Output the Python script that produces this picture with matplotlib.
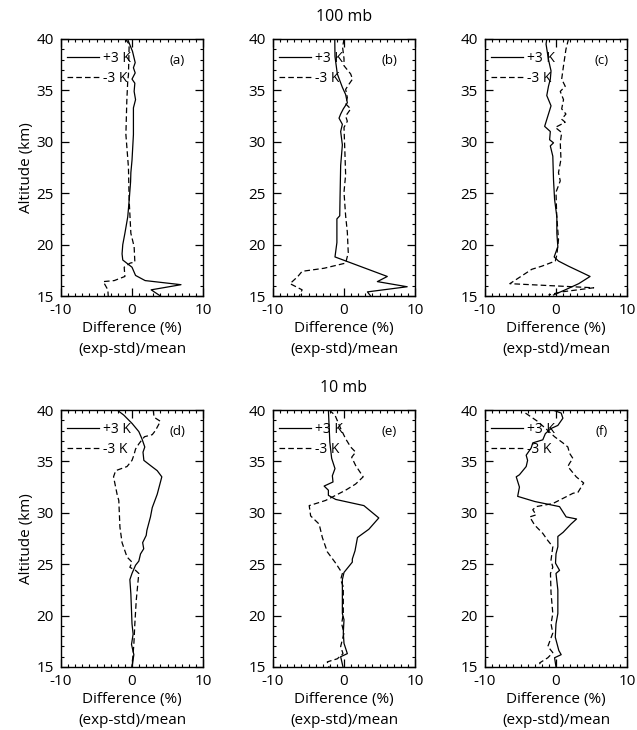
import matplotlib
matplotlib.use("Agg")
import matplotlib.pyplot as plt

plt.rcParams['font.family'] = ['Open Sans', 'DejaVu Sans']
plt.rcParams['axes.unicode_minus'] = False

# panel (a)
a_plus_x = [-0.63, 0.07, 0.45, 0.2, 0.45, 0.0, 0.4, 0.3, 0.5, 0.2, 0.2, 0.0, -0.16, -0.2, -0.4,
            -0.6, -1.0, -1.3, -1.4, -1.3, 0.0, 0.5, 1.85, 6.9, 2.7, 4.0]
a_plus_y = [40, 38.8, 37.7, 37.2, 36.7, 36.1, 35.7, 34.9, 34.1, 33.3, 30.7, 28.2, 27.0, 26.1, 24.3,
            22.7, 21.1, 20.0, 19.1, 18.5, 17.8, 17.0, 16.5, 16.1, 15.6, 15.0]
a_minus_x = [-0.96, -0.4, -0.5, -0.6, -0.73, -0.86, -0.5, -0.4, -0.16, 0.3, 0.4, -0.26, -1.1, -1.0,
             -2.5, -4.05, -3.4, -3.35]
a_minus_y = [40, 39.5, 36.5, 35.9, 34.0, 30.7, 27.5, 24.3, 21.1, 19.8, 18.3, 18.2, 17.8, 16.9,
             16.5, 16.4, 15.6, 15.0]

# panel (b)
b_plus_x = [-1.3, -1.27, -0.94, -0.23, 0.23, 0.47, -0.1, -0.47, -0.7, -0.23, -0.47, -0.23, -0.47,
            -0.56, -0.6, -1.0, -1.0, -1.27, 6.1, 4.7, 8.9, 3.3, 3.75]
b_plus_y = [40, 38.3, 36.6, 35.3, 34.6, 33.8, 33.2, 32.7, 32.3, 31.7, 31.0, 29.7, 27.7,
            24.5, 22.8, 22.5, 20.2, 18.8, 16.9, 16.4, 15.9, 15.4, 15.0]
b_minus_x = [0.0, -0.2, 0.0, 0.0, 0.94, 1.2, 0.7, 0.23, 0.47, 0.23, 0.94, 0.23, 0.47, 0.0, 0.14,
             0.23, 0.0, 0.23, 0.47, 0.6, 0.23, -2.8, -5.9, -6.5, -7.6, -5.9, -6.3]
b_minus_y = [40, 39.2, 38.1, 37.4, 36.6, 36.1, 35.6, 35.1, 34.3, 33.7, 33.2, 32.5, 32.0, 31.4, 28.7,
             26.8, 25.1, 22.8, 21.2, 19.2, 18.2, 17.7, 17.4, 16.9, 16.2, 15.6, 15.0]

# panel (c)
c_plus_x = [-1.3, -1.4, -1.06, -0.7, -0.8, -1.06, -1.3, -0.7, -1.06, -1.6, -0.8, -0.9, -0.35, -0.8,
            -0.45, -0.35, -0.2, 0.12, 0.12, 0.26, -0.26, 0.35, 1.76, 3.9, 4.8, 3.2, 1.3, -0.35]
c_plus_y = [40, 39.5, 38.0, 36.9, 36.1, 35.4, 34.5, 33.5, 32.7, 31.5, 31.0, 30.2, 29.9, 29.6,
            28.6, 26.3, 24.4, 22.7, 21.1, 19.8, 18.8, 18.4, 17.9, 17.2, 16.9, 16.2, 15.6, 15.1]
c_minus_x = [1.76, 1.4, 1.06, 0.8, 1.3, 0.6, 1.06, 0.8, 1.4, 0.8, 1.3, -0.1, 0.8, 0.6, 0.7, 0.35,
             0.6, 0.0, 0.1, 0.35, 0.12, -0.1, -2.0, -3.4, -6.5, 5.3, 0.8, -1.06]
c_minus_y = [40, 39.0, 37.4, 36.1, 35.4, 34.9, 34.1, 33.2, 32.7, 32.2, 31.9, 31.4, 30.9, 29.9,
             28.3, 27.0, 26.2, 25.1, 22.8, 20.5, 19.0, 18.4, 17.9, 17.6, 16.2, 15.8, 15.4, 15.1]

# panel (d)
d_plus_x = [-2.1, -1.15, 0.0, 0.96, 1.4, 1.8, 1.55, 1.67, 2.6, 3.55, 4.2, 3.55, 2.85, 2.6, 2.1,
            2.0, 1.5, 1.65, 1.2, 0.96, 0.5, 0.0, -0.3, -0.16, 0.0, 0.16, -0.07, 0.26, 0.0]
d_plus_y = [40, 39.5, 38.7, 37.9, 37.2, 36.4, 35.9, 35.1, 34.6, 34.1, 33.5, 31.8, 30.5, 29.6,
            28.3, 27.8, 27.1, 26.5, 26.0, 25.3, 24.9, 24.1, 23.5, 22.1, 19.2, 18.2, 17.2, 16.2, 15.0]
d_minus_x = [3.0, 3.1, 4.0, 3.3, 2.85, 1.76, 1.4, 0.96, 0.5, 0.26, 0.0, -0.7, -2.3, -2.6, -2.1,
             -1.86, -1.7, -1.4, -0.7, 0.0, -0.3, 0.5, 0.96, 0.86, 0.6, 0.4, 0.26, 0.0]
d_minus_y = [40, 39.3, 38.9, 38.0, 37.6, 37.4, 37.1, 36.7, 36.2, 35.6, 35.1, 34.5, 34.1, 33.5,
             31.8, 31.2, 28.6, 27.1, 25.7, 25.2, 24.7, 24.4, 24.1, 23.4, 21.5, 19.2, 17.2, 15.0]

# panel (e)
e_plus_x = [-2.2, -2.1, -2.0, -1.74, -1.27, -1.64, -1.55, -2.8, -2.2, -2.2, -1.17, 2.8, 4.9, 3.5,
            1.9, 1.55, 1.17, 1.17, 0.0, -0.23, -0.23, 0.0, -0.1, 0.0, 0.47, -0.47, -0.14]
e_plus_y = [40, 38.5, 36.9, 35.3, 34.3, 33.6, 33.0, 32.6, 32.2, 31.7, 31.3, 30.7, 29.5, 28.4,
            27.6, 26.3, 25.5, 25.2, 24.2, 23.5, 20.2, 19.6, 18.3, 17.3, 16.3, 16.0, 15.0]
e_minus_x = [-2.1, -1.27, -0.47, 0.23, 0.94, 1.64, 1.08, 1.64, 2.7, 1.64, 0.23, -1.17, -2.6, -3.5,
             -4.9, -4.7, -3.5, -3.05, -2.35, -1.17, -0.23, -0.47, -0.1, -0.1, -0.33, 0.0, -0.47,
             -0.14, -0.94, -2.35, -2.1]
e_minus_y = [40, 39.5, 38.2, 37.2, 36.4, 35.9, 35.4, 34.6, 33.5, 32.8, 32.2, 31.7, 31.2, 31.0,
             30.7, 29.7, 28.9, 27.6, 26.2, 25.1, 24.1, 23.5, 22.8, 20.2, 19.2, 18.3, 17.0, 16.3,
             15.8, 15.5, 15.0]

# panel (f)
f_plus_x = [-0.45, 0.73, 0.97, 0.26, -0.7, -1.5, -1.86, -3.27, -3.5, -4.2, -4.0, -4.2, -5.15, -5.6,
            -5.15, -5.4, -3.0, 0.5, 1.43, 2.9, 2.1, 1.0, 0.26, 0.26, 0.0, -0.07, 0.5, 0.0, 0.26,
            0.26, 0.0, -0.1, 0.4, 0.73, -0.2, 0.0]
f_plus_y = [40, 39.7, 39.2, 38.5, 38.2, 37.7, 37.1, 36.8, 36.3, 35.6, 35.1, 34.5, 33.7, 33.5,
            32.5, 31.6, 31.1, 30.6, 29.6, 29.4, 28.9, 28.1, 27.7, 26.7, 26.0, 25.1, 24.4, 24.1,
            22.5, 20.2, 19.2, 17.9, 16.6, 16.2, 15.9, 15.0]
f_minus_x = [-4.3, -2.6, -1.3, -0.2, 0.97, 1.67, 1.9, 2.37, 1.9, 1.67, 2.85, 3.9, 3.1, 2.4, -0.45,
             -2.8, -3.27, -2.8, -3.7, -3.0, -1.86, -1.15, -0.45, -0.7, -0.45, -0.78, -0.7, -0.45,
             -0.7, -0.45, -1.15, -0.45, -1.15, -2.3, -2.1]
f_minus_y = [39.7, 38.9, 38.1, 37.4, 36.8, 36.4, 35.8, 35.3, 34.8, 34.5, 33.5, 32.9, 32.0, 31.9,
             30.9, 30.6, 30.3, 29.8, 29.6, 28.8, 28.0, 27.3, 26.7, 25.4, 24.7, 24.1, 22.2, 20.2,
             19.2, 18.3, 17.0, 16.4, 15.9, 15.4, 15.0]

panel_labels = ['(a)', '(b)', '(c)', '(d)', '(e)', '(f)']
row_titles = ['100 mb', '10 mb']
xticks = [-10, 0, 10]
yticks = [15, 20, 25, 30, 35, 40]


def draw_panel(ax, plus_x, plus_y, minus_x, minus_y, label):
    ax.plot(plus_x, plus_y, color='black', linewidth=0.9, label='+3 K')
    ax.plot(minus_x, minus_y, color='black', linewidth=0.9, linestyle=(0, (4.5, 2.5)), label='-3 K')
    ax.set_xlim(-10, 10)
    ax.set_ylim(15, 40)
    ax.set_xticks(xticks)
    ax.set_yticks(yticks)
    ax.set_xticks(range(-10, 11), minor=True)
    ax.set_yticks(range(15, 41), minor=True)
    ax.tick_params(which='both', direction='in', top=True, right=True, labelsize=11, pad=5)
    ax.tick_params(which='major', length=5.5, width=0.9)
    ax.tick_params(which='minor', length=2.5, width=0.8)
    for s in ax.spines.values():
        s.set_linewidth(1.0)
    ax.text(0.82, 0.915, label, transform=ax.transAxes, ha='center', va='center', fontsize=9.5)
    ax.legend(loc='upper left', bbox_to_anchor=(0.0, 0.975), frameon=False, fontsize=10,
              handlelength=2.3, handletextpad=0.3, labelspacing=0.35, borderaxespad=0.2,
              borderpad=0.2)
    ax.set_xlabel("Difference (%)\n(exp-std)/mean", fontsize=11, linespacing=1.6, labelpad=2)


fig = plt.figure(figsize=(6.37, 7.30), dpi=100)
lefts = [61 / 637, 273 / 637, 485 / 637]
bottoms = [1 - 296 / 730, 1 - 667 / 730]
w = 142 / 637
h = 257 / 730

data = [
    (a_plus_x, a_plus_y, a_minus_x, a_minus_y),
    (b_plus_x, b_plus_y, b_minus_x, b_minus_y),
    (c_plus_x, c_plus_y, c_minus_x, c_minus_y),
    (d_plus_x, d_plus_y, d_minus_x, d_minus_y),
    (e_plus_x, e_plus_y, e_minus_x, e_minus_y),
    (f_plus_x, f_plus_y, f_minus_x, f_minus_y),
]

for i, (px, py, mx, my) in enumerate(data):
    row, col = divmod(i, 3)
    ax = fig.add_axes([lefts[col], bottoms[row], w, h])
    draw_panel(ax, px, py, mx, my, panel_labels[i])
    if col == 0:
        ax.set_ylabel("Altitude (km)", fontsize=11, labelpad=2)
    if col == 1:
        ax.set_title(row_titles[row], fontsize=11.5, pad=13)

fig.savefig("out.png", dpi=100)
